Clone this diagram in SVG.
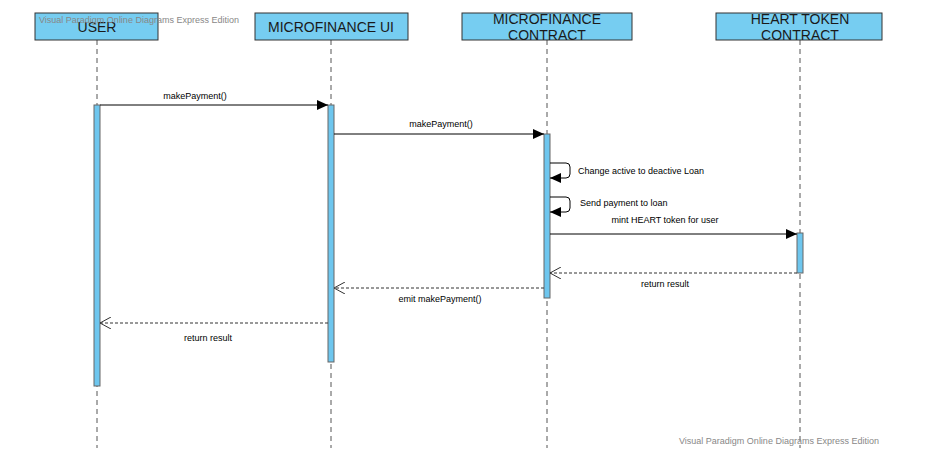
<svg xmlns="http://www.w3.org/2000/svg" width="934" height="475" viewBox="0 0 934 475">
<style>
.hdr{fill:#76CDF1;stroke:#333;stroke-width:1}
.ht{font-family:"Liberation Sans",Arial,sans-serif;font-size:14px;fill:#1a1a1a;text-anchor:middle}
.life{stroke:#555;stroke-width:1;stroke-dasharray:5,4;fill:none}
.act{fill:#6EC6EE;stroke:#666;stroke-width:1}
.msg{stroke:#000;stroke-width:1;fill:none}
.ret{stroke:#333;stroke-width:1;stroke-dasharray:3,2;fill:none}
.lbl{font-family:"Liberation Sans",Arial,sans-serif;font-size:9px;fill:#000}
.wm{font-family:"Liberation Sans",Arial,sans-serif;font-size:9px;fill:#888}
</style>
<defs>
<marker id="solid" markerWidth="12" markerHeight="10" refX="11" refY="5" orient="auto" markerUnits="userSpaceOnUse">
<path d="M0,0 L11,5 L0,10 Z" fill="#000"/>
</marker>
<marker id="open" markerWidth="12" markerHeight="12" refX="11" refY="6" orient="auto" markerUnits="userSpaceOnUse">
<path d="M0,0 L11,6 L0,12" fill="none" stroke="#333" stroke-width="1"/>
</marker>
</defs>
<rect width="934" height="475" fill="#fff"/>

<g id="user">
<line class="life" x1="97" y1="40" x2="97" y2="448"/>
<rect class="hdr" x="35" y="13" width="123" height="27"/>
<text class="ht" x="97" y="32">USER</text>
<rect class="act" x="94" y="105" width="6" height="281"/>
</g>
<g id="ui">
<line class="life" x1="331" y1="40" x2="331" y2="448"/>
<rect class="hdr" x="255" y="13" width="153" height="27"/>
<text class="ht" x="331" y="32">MICROFINANCE UI</text>
<rect class="act" x="328" y="105" width="6" height="257"/>
</g>
<g id="contract">
<line class="life" x1="547" y1="40" x2="547" y2="448"/>
<rect class="hdr" x="462" y="13" width="170" height="27"/>
<text class="ht" x="547" y="24">MICROFINANCE</text>
<text class="ht" x="547" y="40">CONTRACT</text>
<rect class="act" x="544" y="134" width="6" height="164"/>
</g>
<g id="heart">
<line class="life" x1="800" y1="40" x2="800" y2="448"/>
<rect class="hdr" x="716" y="13" width="166" height="27"/>
<text class="ht" x="800" y="24">HEART TOKEN</text>
<text class="ht" x="800" y="40">CONTRACT</text>
<rect class="act" x="797" y="233" width="6" height="40"/>
</g>

<g id="connectors">
<line class="msg" x1="100" y1="105" x2="328" y2="105" marker-end="url(#solid)"/>
<text class="lbl" x="195" y="99" text-anchor="middle">makePayment()</text>
<line class="msg" x1="334" y1="134" x2="544" y2="134" marker-end="url(#solid)"/>
<text class="lbl" x="441" y="127" text-anchor="middle">makePayment()</text>
<path class="msg" d="M550,163 H566 Q570,163 570,167 V174 Q570,178 566,178 H550" marker-end="url(#solid)"/>
<text class="lbl" x="578" y="174">Change active to deactive Loan</text>
<path class="msg" d="M550,197 H566 Q570,197 570,201 V208 Q570,212 566,212 H550" marker-end="url(#solid)"/>
<text class="lbl" x="580" y="206">Send payment to loan</text>
<line class="msg" x1="550" y1="234" x2="797" y2="234" marker-end="url(#solid)"/>
<text class="lbl" x="665" y="223" text-anchor="middle">mint HEART token for user</text>
<line class="ret" x1="797" y1="273" x2="550" y2="273" marker-end="url(#open)"/>
<text class="lbl" x="665" y="287" text-anchor="middle">return result</text>
<line class="ret" x1="544" y1="288" x2="334" y2="288" marker-end="url(#open)"/>
<text class="lbl" x="440" y="302" text-anchor="middle">emit makePayment()</text>
<line class="ret" x1="328" y1="323" x2="100" y2="323" marker-end="url(#open)"/>
<text class="lbl" x="208" y="341" text-anchor="middle">return result</text>
</g>

<text class="wm" x="39" y="23">Visual Paradigm Online Diagrams Express Edition</text>
<text class="wm" x="679" y="444">Visual Paradigm Online Diagrams Express Edition</text>
</svg>
